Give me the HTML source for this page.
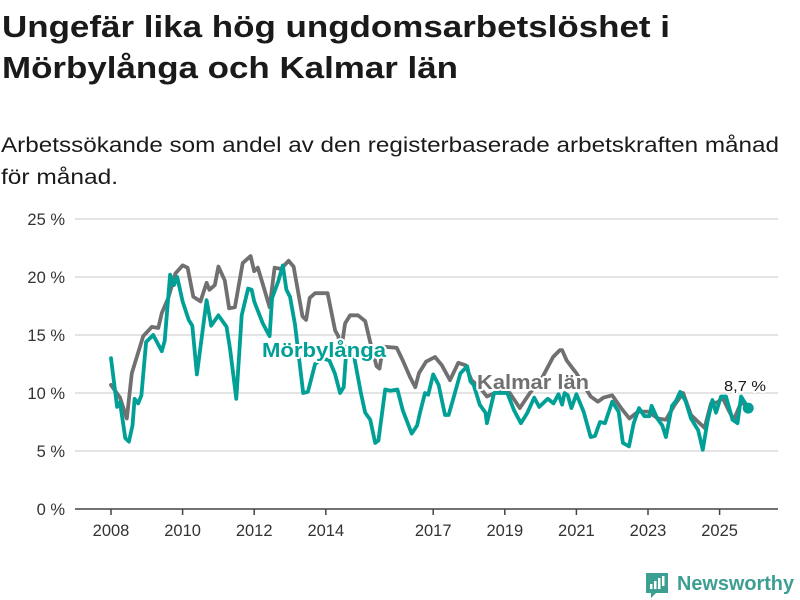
<!DOCTYPE html>
<html><head><meta charset="utf-8"><style>
html,body{margin:0;padding:0;background:#fff;}
svg{display:block;font-family:"Liberation Sans",sans-serif;}
</style></head><body>
<svg id="chart" width="800" height="600" viewBox="0 0 800 600">
<text x="2" y="37" font-size="31" font-weight="bold" fill="#1a1a1a" textLength="668" lengthAdjust="spacingAndGlyphs">Ungefär lika hög ungdomsarbetslöshet i</text>
<text x="2" y="78" font-size="31" font-weight="bold" fill="#1a1a1a" textLength="456" lengthAdjust="spacingAndGlyphs">Mörbylånga och Kalmar län</text>
<text x="1" y="152" font-size="21" fill="#1a1a1a" textLength="778" lengthAdjust="spacingAndGlyphs">Arbetssökande som andel av den registerbaserade arbetskraften månad</text>
<text x="1" y="184" font-size="21" fill="#1a1a1a" textLength="117" lengthAdjust="spacingAndGlyphs">för månad.</text>
<g id="grid"></g>
<g id="yticks"></g>
<g id="xticks"></g>
<g id="series"></g>
<g id="labels"></g>
<g>
<path d="M646 573 h22 v20 h-12 l-5 5 v-5 h-5 z" fill="#3d9e92"/>
<rect x="650" y="584" width="2.5" height="5" fill="#fff"/>
<rect x="654" y="581" width="2.5" height="8" fill="#fff"/>
<rect x="658" y="578" width="2.5" height="11" fill="#fff"/>
<rect x="662" y="576" width="2.5" height="10" fill="#fff"/>
<text x="677" y="590" font-size="20" font-weight="bold" fill="#3d9e92" textLength="117" lengthAdjust="spacingAndGlyphs">Newsworthy</text>
</g>
</svg>
<script>
const yTicks = [0, 5, 10, 15, 20, 25];
const yTickLabels = ["0 %", "5 %", "10 %", "15 %", "20 %", "25 %"];
const xTicks = [2008, 2010, 2012, 2014, 2017, 2019, 2021, 2023, 2025];
const kalmarT = [2008.0,2008.25,2008.44,2008.58,2008.72,2008.9,2009.14,2009.32,2009.42,2009.6,2009.8,2010.0,2010.14,2010.3,2010.5,2010.67,2010.75,2010.9,2011.0,2011.18,2011.3,2011.46,2011.68,2011.9,2012.0,2012.1,2012.23,2012.43,2012.57,2012.75,2012.96,2013.1,2013.35,2013.45,2013.55,2013.7,2013.9,2014.05,2014.26,2014.35,2014.42,2014.54,2014.68,2014.9,2015.1,2015.24,2015.42,2015.5,2015.6,2015.98,2016.15,2016.35,2016.5,2016.6,2016.8,2017.05,2017.24,2017.47,2017.7,2017.9,2018.07,2018.3,2018.5,2018.86,2019.14,2019.42,2019.7,2020.06,2020.35,2020.54,2020.6,2020.73,2021.0,2021.4,2021.6,2021.76,2022.0,2022.25,2022.48,2022.72,2023.0,2023.28,2023.5,2023.75,2023.98,2024.2,2024.44,2024.58,2024.76,2024.95,2025.08,2025.27,2025.4,2025.6,2025.8];
const kalmarV = [10.7,9.6,7.8,11.7,13.1,14.9,15.7,15.6,16.9,18.2,20.3,21.0,20.8,18.3,17.9,19.5,18.9,19.3,20.9,19.7,17.3,17.4,21.2,21.8,20.5,20.8,19.5,17.4,20.8,20.7,21.4,20.9,16.6,16.3,18.2,18.6,18.6,18.6,15.4,14.9,13.5,16.0,16.7,16.7,16.2,14.4,12.3,12.1,14.0,13.9,12.8,11.4,10.5,11.7,12.7,13.1,12.4,11.1,12.6,12.4,11.1,10.5,9.7,10.2,10.0,8.7,10.0,11.4,13.1,13.7,13.7,12.8,11.7,9.7,9.25,9.6,9.8,8.7,7.8,8.4,8.4,7.8,7.7,9.0,10.0,8.1,7.4,7.0,9.1,9.2,9.6,8.4,7.7,9.2,8.8];
const morbT = [2008.0,2008.17,2008.25,2008.4,2008.5,2008.6,2008.66,2008.76,2008.85,2008.98,2009.18,2009.42,2009.5,2009.65,2009.76,2009.85,2010.0,2010.17,2010.27,2010.4,2010.67,2010.8,2011.0,2011.23,2011.33,2011.5,2011.65,2011.83,2011.93,2012.0,2012.24,2012.43,2012.5,2012.67,2012.8,2012.9,2013.0,2013.14,2013.37,2013.5,2013.7,2013.9,2014.1,2014.25,2014.4,2014.5,2014.58,2014.8,2014.98,2015.1,2015.24,2015.38,2015.47,2015.66,2015.8,2016.0,2016.15,2016.4,2016.55,2016.63,2016.77,2016.86,2017.0,2017.15,2017.33,2017.43,2017.57,2017.76,2017.95,2018.04,2018.13,2018.3,2018.46,2018.5,2018.7,2019.07,2019.26,2019.45,2019.63,2019.82,2019.96,2020.2,2020.36,2020.5,2020.6,2020.67,2020.76,2020.86,2021.0,2021.2,2021.4,2021.52,2021.66,2021.8,2022.0,2022.18,2022.3,2022.47,2022.6,2022.75,2022.9,2023.04,2023.1,2023.26,2023.4,2023.5,2023.67,2023.78,2023.9,2024.05,2024.2,2024.4,2024.53,2024.66,2024.8,2024.9,2025.04,2025.18,2025.36,2025.5,2025.6,2025.8];
const morbV = [13.0,8.8,9.2,6.1,5.8,7.2,9.5,9.1,9.8,14.4,15.0,13.6,14.5,20.2,19.3,20.0,17.9,16.3,15.8,11.6,18.0,15.8,16.7,15.7,13.7,9.5,16.7,19.0,18.9,17.9,16.0,14.9,18.2,19.6,21.0,18.9,18.3,15.9,10.0,10.1,12.5,13.0,12.8,11.7,10.0,10.5,14.0,13.0,10.0,8.3,7.7,5.7,5.9,10.3,10.2,10.3,8.5,6.5,7.2,8.3,10.0,9.85,11.6,10.7,8.1,8.1,9.6,11.7,12.3,11.0,10.7,9.0,8.3,7.4,10.0,10.0,8.5,7.4,8.3,9.6,8.8,9.5,9.1,9.9,9.0,10.0,9.8,8.7,9.9,8.4,6.2,6.3,7.5,7.4,9.25,8.4,5.7,5.4,7.4,8.7,8.0,8.0,8.9,7.8,7.2,6.2,8.9,9.3,10.1,9.3,7.8,6.8,5.1,7.5,9.4,8.3,9.7,9.7,7.7,7.4,9.7,8.7];

const NS = "http://www.w3.org/2000/svg";
const X0 = 75, X1 = 778, Y0 = 509, YTOP = 219;
function xs(t){ return 111 + (t - 2008) * 35.8; }
function ys(v){ return Y0 - (v / 25) * (Y0 - YTOP); }
function mk(tag, attrs, parent){ const e = document.createElementNS(NS, tag); for (const k in attrs) e.setAttribute(k, attrs[k]); parent.appendChild(e); return e; }

const grid = document.getElementById('grid'), yt = document.getElementById('yticks'), xt = document.getElementById('xticks');
yTicks.forEach((v, i) => {
  if (i > 0) {
    const l = mk('line', {x1: X0, x2: X1, y1: ys(v), y2: ys(v), stroke: '#dcdcdc', 'stroke-width': 1.5}, grid);
    
    
  }
  const t = mk('text', {x: 65, y: ys(v) + 6, 'text-anchor': 'end', 'font-size': 16.5, fill: '#333'}, yt);
  t.textContent = yTickLabels[i];
  
  
});
const ax = mk('line', {x1: X0, x2: X1, y1: Y0, y2: Y0, stroke: '#444', 'stroke-width': 1.5}, xt);


xTicks.forEach(y => {
  const tk = mk('line', {x1: xs(y), x2: xs(y), y1: Y0, y2: Y0 + 6, stroke: '#444', 'stroke-width': 1.5}, xt);
  
  
  const t = mk('text', {x: xs(y), y: 536, 'text-anchor': 'middle', 'font-size': 16.5, fill: '#333'}, xt);
  t.textContent = y;
  
  
});

const series = document.getElementById('series');
function line(T, V, color, name){
  const d = T.map((t, i) => (i ? 'L' : 'M') + xs(t).toFixed(1) + ' ' + ys(V[i]).toFixed(1)).join(' ');
  const p = mk('path', {d: d, fill: 'none', stroke: color, 'stroke-width': 3.8, 'stroke-linejoin': 'round', 'stroke-linecap': 'round'}, series);
  
  
}
line(kalmarT, kalmarV, '#707070', 'kalmar-lan-line');
line(morbT, morbV, '#00a096', 'morbylanga-line');
const n = morbT.length - 1;
const dot = mk('circle', {cx: xs(morbT[n]), cy: ys(morbV[n]), r: 5.5, fill: '#00a096'}, series);



const labels = document.getElementById('labels');
function lab(x, y, txt, color, size, bold, name, len){
  const t = mk('text', {x: x, y: y, 'font-size': size, 'font-weight': bold ? 'bold' : 'normal', fill: color, stroke: '#fff', 'stroke-width': 4, 'paint-order': 'stroke', 'stroke-linejoin': 'round', textLength: len, lengthAdjust: 'spacingAndGlyphs'}, labels);
  t.textContent = txt;
  
  
}
lab(262, 357, 'Mörbylånga', '#00a096', 20, true, 'morbylanga-label', 124);
lab(477, 389, 'Kalmar län', '#707070', 20, true, 'kalmar-lan-label', 112);
lab(724, 391, '8,7 %', '#1a1a1a', 15, false, 'last-value-label', 42);
</script>
</body></html>
